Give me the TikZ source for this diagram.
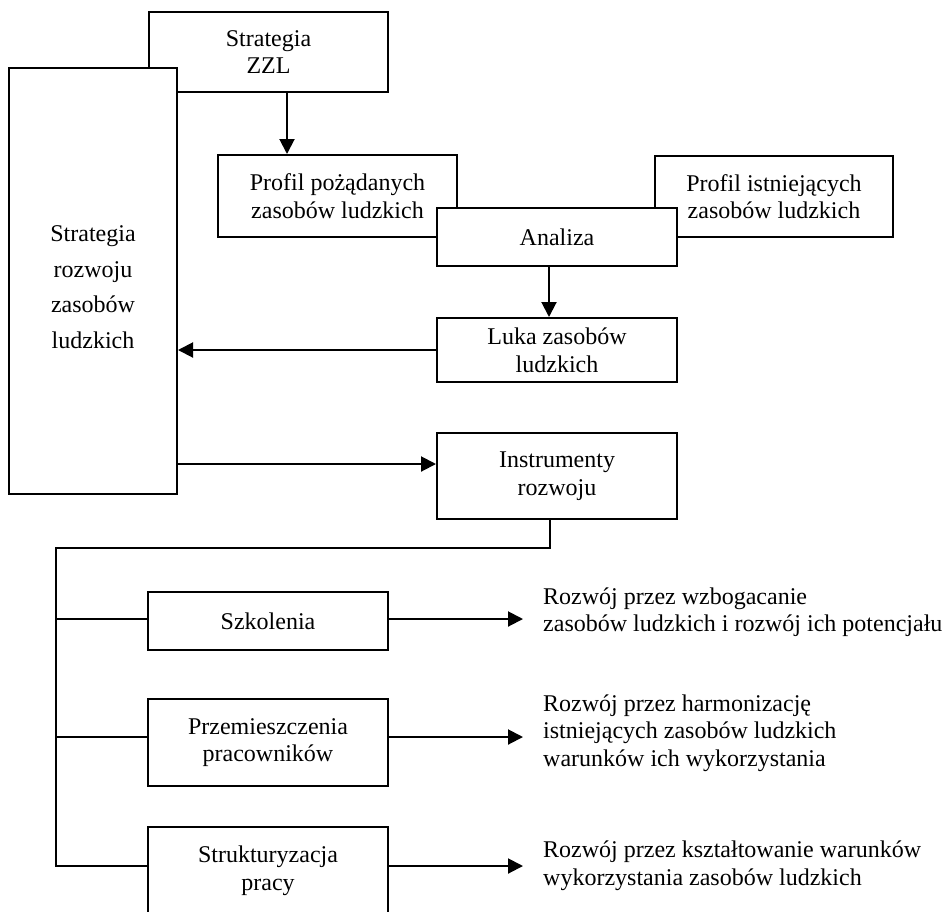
\documentclass[tikz,border=0pt]{standalone}
\usepackage{fontspec}
\setmainfont{Liberation Serif}
\usetikzlibrary{arrows.meta}
\begin{document}
\begin{tikzpicture}[x=1pt,y=-1pt,
  txt/.style={font=\fontsize{24}{27.6}\selectfont},
  box/.style={draw, line width=2pt, fill=white, inner sep=0pt, align=center, txt},
  conn/.style={line width=2pt},
  arr/.style={conn, -{Triangle[length=15pt,width=15pt]}},
  desc/.style={txt, align=left, inner sep=0pt, anchor=west}]
\useasboundingbox (0,0) rectangle (944,911);
\fill[white] (0,0) rectangle (944,911);
% boxes
\node[box, minimum width=239pt, minimum height=80pt] (zzl) at (268.5,52) {Strategia\\ZZL};
\node[box, minimum width=168pt, minimum height=426pt] (big) at (93,281) {};
\node[align=center, inner sep=0pt, font=\fontsize{24}{35.5}\selectfont] (bigtxt) at (93,287) {Strategia\\rozwoju\\zasobów\\ludzkich};
\node[box, minimum width=239pt, minimum height=82pt] (ppoz) at (337.5,196) {Profil pożądanych\\zasobów ludzkich};
\node[box, minimum width=238pt, minimum height=81pt] (pist) at (774,196.5) {Profil istniejących\\zasobów ludzkich};
\node[box, minimum width=240pt, minimum height=58pt] (anal) at (557,237) {Analiza};
\node[box, minimum width=240pt, minimum height=64pt] (luka) at (557,350) {Luka zasobów\\ludzkich};
\node[box, minimum width=240pt, minimum height=86pt] (instr) at (557,476) {Instrumenty\\rozwoju};
\node[box, minimum width=240pt, minimum height=58pt] (szk) at (268,621) {Szkolenia};
\node[box, minimum width=240pt, minimum height=87pt] (przem) at (268,742.5) {Przemieszczenia\\pracowników};
\node[box, minimum width=240pt, minimum height=87pt] (strukt) at (268,870.5) {Strukturyzacja\\pracy};
% descriptions
\node[desc] (d1) at (543,612) {Rozwój przez wzbogacanie\\zasobów ludzkich i rozwój ich potencjału};
\node[desc] (d2) at (543,733) {Rozwój przez harmonizację\\istniejących zasobów ludzkich\\warunków ich wykorzystania};
\node[desc] (d3) at (543,866) {Rozwój przez kształtowanie warunków\\wykorzystania zasobów ludzkich};
% helper coordinates
\coordinate (c1) at (287,0);
\coordinate (c2) at (549,0);
\coordinate (c3) at (0,464);
\coordinate (c4) at (550,0);
\coordinate (tr) at (56,548);
\coordinate (b1) at (56,619);
\coordinate (b2) at (56,737);
\coordinate (b3) at (56,866);
\coordinate (tip) at (523,0);
% connectors
\draw[arr] (c1 |- zzl.south) -- (c1 |- ppoz.north);
\draw[arr] (c2 |- anal.south) -- (c2 |- luka.north);
\draw[arr] (luka.west) -- (luka.west -| big.east);
\draw[arr] (c3 -| big.east) -- (c3 -| instr.west);
\draw[conn] (c4 |- instr.south) -- (c4 |- tr) -- (tr) -- (b3) -- (b3 -| strukt.west);
\draw[conn] (b1) -- (b1 -| szk.west);
\draw[conn] (b2) -- (b2 -| przem.west);
\draw[arr] (b1 -| szk.east) -- (b1 -| tip);
\draw[arr] (b2 -| przem.east) -- (b2 -| tip);
\draw[arr] (b3 -| strukt.east) -- (b3 -| tip);
\end{tikzpicture}
\end{document}
